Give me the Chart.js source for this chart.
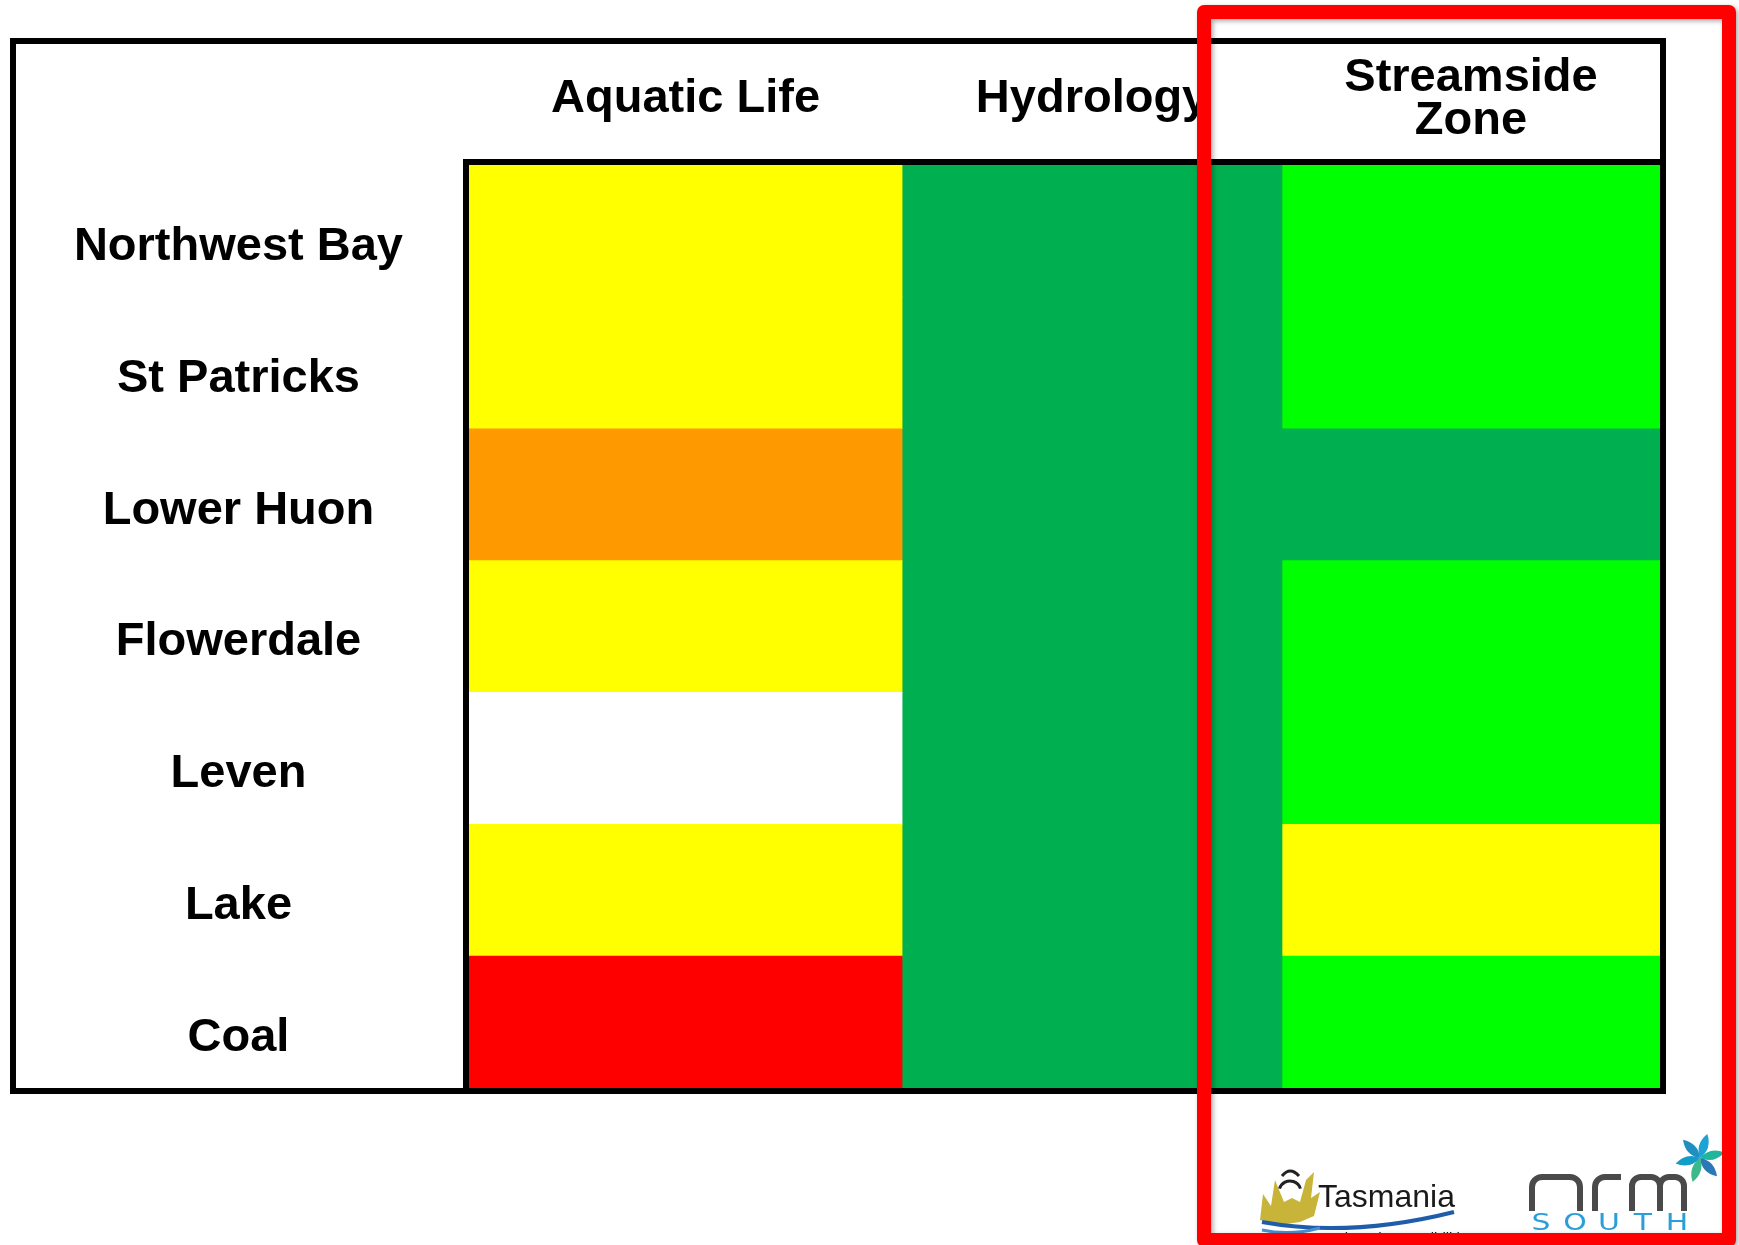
<!DOCTYPE html>
<html><head><meta charset="utf-8">
<script src="https://cdn.jsdelivr.net/npm/chart.js@4.4.0/dist/chart.umd.min.js"></script>
<style>html,body{margin:0;padding:0;background:#fff;}canvas{display:block;}</style>
</head><body>
<canvas id="c" width="1739" height="1245"></canvas>
<script>
// ---------- data ----------
const sites = ['Northwest Bay', 'St Patricks', 'Lower Huon', 'Flowerdale', 'Leven', 'Lake', 'Coal'];
const indicators = ['Aquatic Life', 'Hydrology', ['Streamside', 'Zone']];
const aquaticLife    = ['Fair', 'Fair', 'Poor', 'Fair', 'No data', 'Fair', 'Very poor'];
const hydrology      = ['Very good', 'Very good', 'Very good', 'Very good', 'Very good', 'Very good', 'Very good'];
const streamsideZone = ['Good', 'Good', 'Very good', 'Good', 'Good', 'Fair', 'Good'];
const columnEdges = [0, 1.14, 2.14, 3.135];   // extent of each indicator column on the value scale

// ---------- styles ----------
const ratingColours = {
  'Very good': '#00AF50',
  'Good': '#00FF00',
  'Fair': '#FFFF00',
  'Poor': '#FF9900',
  'Very poor': '#FF0000',
  'No data': '#FFFFFF'
};
const FONT = '"Liberation Sans", Arial, sans-serif';
const columns = [aquaticLife, hydrology, streamsideZone];

const datasets = columns.map((ratings, c) => ({
  label: Array.isArray(indicators[c]) ? indicators[c].join(' ') : indicators[c],
  data: sites.map(() => [columnEdges[c], columnEdges[c + 1]]),
  backgroundColor: ratings.map(r => ratingColours[r]),
  borderWidth: 0,
  borderSkipped: false,
  barPercentage: 1,
  categoryPercentage: 1,
  grouped: false
}));

const framePlugin = {
  id: 'frame',
  afterDraw(chart) {
    const ctx = chart.ctx;
    const a = chart.chartArea;
    ctx.save();
    ctx.strokeStyle = '#000';
    ctx.lineWidth = 6;
    ctx.lineJoin = 'miter';
    // outer box
    ctx.strokeRect(13, 41, a.right + 3 - 13, a.bottom + 3 - 41);
    // chart area left and top lines
    ctx.beginPath();
    ctx.moveTo(a.left - 3, a.bottom + 3);
    ctx.lineTo(a.left - 3, a.top - 3);
    ctx.lineTo(a.right + 6, a.top - 3);
    ctx.stroke();
    ctx.restore();

    // --- Tasmania logo ---
    ctx.save();
    ctx.fillStyle = '#C9B43A';
    ctx.beginPath();
    ctx.moveTo(1260, 1220); ctx.lineTo(1263, 1194); ctx.lineTo(1271, 1206); ctx.lineTo(1275, 1180);
    ctx.lineTo(1284, 1202); ctx.lineTo(1292, 1198); ctx.lineTo(1300, 1202); ctx.lineTo(1306, 1180);
    ctx.lineTo(1314, 1172); ctx.lineTo(1311, 1198); ctx.lineTo(1320, 1192); ctx.lineTo(1314, 1216);
    ctx.lineTo(1300, 1222); ctx.lineTo(1280, 1225); ctx.closePath();
    ctx.fill();
    ctx.strokeStyle = '#222';
    ctx.lineWidth = 3;
    ctx.beginPath(); ctx.arc(1290, 1192, 11, Math.PI * 1.1, Math.PI * 1.9); ctx.stroke();
    ctx.beginPath(); ctx.moveTo(1282, 1176); ctx.quadraticCurveTo(1290, 1166, 1299, 1176); ctx.stroke();
    ctx.strokeStyle = '#1E5DAA';
    ctx.lineWidth = 4;
    ctx.beginPath(); ctx.moveTo(1262, 1222); ctx.quadraticCurveTo(1350, 1238, 1454, 1212); ctx.stroke();
    ctx.strokeStyle = '#4A90D0';
    ctx.lineWidth = 3;
    ctx.beginPath(); ctx.moveTo(1262, 1230); ctx.quadraticCurveTo(1290, 1236, 1320, 1228); ctx.stroke();
    ctx.fillStyle = '#1a1a1a';
    ctx.font = '32px ' + FONT;
    ctx.textBaseline = 'alphabetic';
    ctx.textAlign = 'left';
    ctx.fillText('Tasmania', 1318, 1207);
    ctx.font = '15px ' + FONT;
    ctx.fillText('Explore the possibilities', 1319, 1243);
    ctx.restore();

    // --- NRM South logo ---
    ctx.save();
    ctx.strokeStyle = '#4A4A4A';
    ctx.lineWidth = 6;
    ctx.lineCap = 'butt';
    const arch = (x0, x1, top, bottom, r) => {
      ctx.moveTo(x0, bottom); ctx.lineTo(x0, top + r);
      ctx.arcTo(x0, top, x0 + r, top, r); ctx.lineTo(x1 - r, top);
      ctx.arcTo(x1, top, x1, top + r, r); ctx.lineTo(x1, bottom);
    };
    ctx.beginPath();
    arch(1532, 1580, 1177, 1211, 10);
    ctx.moveTo(1595, 1211); ctx.lineTo(1595, 1187); ctx.arcTo(1595, 1177, 1605, 1177, 10); ctx.lineTo(1621, 1177);
    arch(1632, 1660, 1177, 1211, 9);
    ctx.moveTo(1660, 1187); ctx.arcTo(1660, 1177, 1670, 1177, 9); ctx.lineTo(1674, 1177);
    ctx.arcTo(1684, 1177, 1684, 1187, 9); ctx.lineTo(1684, 1211);
    ctx.stroke();
    ctx.fillStyle = '#2A9ED8';
    ctx.font = '23px "DejaVu Sans", sans-serif';
    ctx.textAlign = 'center';
    ctx.textBaseline = 'alphabetic';
    ['S', 'O', 'U', 'T', 'H'].forEach((ch, i) => {
      ctx.save();
      ctx.translate(1541 + i * 34, 1230);
      ctx.scale(1.3, 1);
      ctx.fillText(ch, 0, 0);
      ctx.restore();
    });
    // flower
    const petals = ['#1BA3D6', '#22B59E', '#2B78B8', '#3BB98A', '#129CC8', '#1F8FC0'];
    petals.forEach((col, i) => {
      ctx.save();
      ctx.translate(1700, 1158);
      ctx.rotate(i * Math.PI / 3 + 0.3);
      ctx.fillStyle = col;
      ctx.beginPath();
      ctx.moveTo(0, 0);
      ctx.quadraticCurveTo(9, -12, 0, -25);
      ctx.quadraticCurveTo(-9, -12, 0, 0);
      ctx.fill();
      ctx.restore();
    });
    ctx.restore();

    // --- red highlight rectangle ---
    ctx.save();
    ctx.shadowColor = 'rgba(0,0,0,0.35)';
    ctx.shadowBlur = 5;
    ctx.shadowOffsetX = 2;
    ctx.shadowOffsetY = 2;
    ctx.strokeStyle = '#FF0000';
    ctx.lineWidth = 14;
    ctx.lineJoin = 'round';
    ctx.strokeRect(1204, 12, 1729 - 1204, 1240 - 12);
    ctx.restore();
  }
};

new Chart(document.getElementById('c'), {
  type: 'bar',
  data: { labels: sites, datasets },
  options: {
    indexAxis: 'y',
    responsive: false,
    devicePixelRatio: 1,
    animation: false,
    layout: { padding: { left: 0, top: 0, right: 79, bottom: 157 } },
    plugins: { legend: { display: false }, tooltip: { enabled: false } },
    scales: {
      x: {
        type: 'linear',
        position: 'top',
        min: columnEdges[0],
        max: columnEdges[columnEdges.length - 1],
        grid: { display: false, drawTicks: false },
        border: { display: false },
        afterBuildTicks(scale) {
          scale.ticks = indicators.map((_, i) => ({ value: (columnEdges[i] + columnEdges[i + 1]) / 2 }));
        },
        afterFit(scale) { scale.height = 165; },
        ticks: {
          callback: (v, i) => indicators[i],
          color: '#000',
          font: { family: FONT, size: 47, weight: 'bold', lineHeight: 0.92 },
          padding: 44,
          crossAlign: 'center',
          maxRotation: 0,
          minRotation: 0,
          autoSkip: false
        }
      },
      y: {
        type: 'category',
        position: 'left',
        grid: { display: false, drawTicks: false },
        border: { display: false },
        afterFit(scale) { scale.width = 469; },
        ticks: {
          color: '#000',
          font: { family: FONT, size: 47, weight: 'bold' },
          padding: 66,
          labelOffset: 16,
          crossAlign: 'center',
          autoSkip: false
        }
      }
    }
  },
  plugins: [framePlugin]
});
</script>
</body></html>
